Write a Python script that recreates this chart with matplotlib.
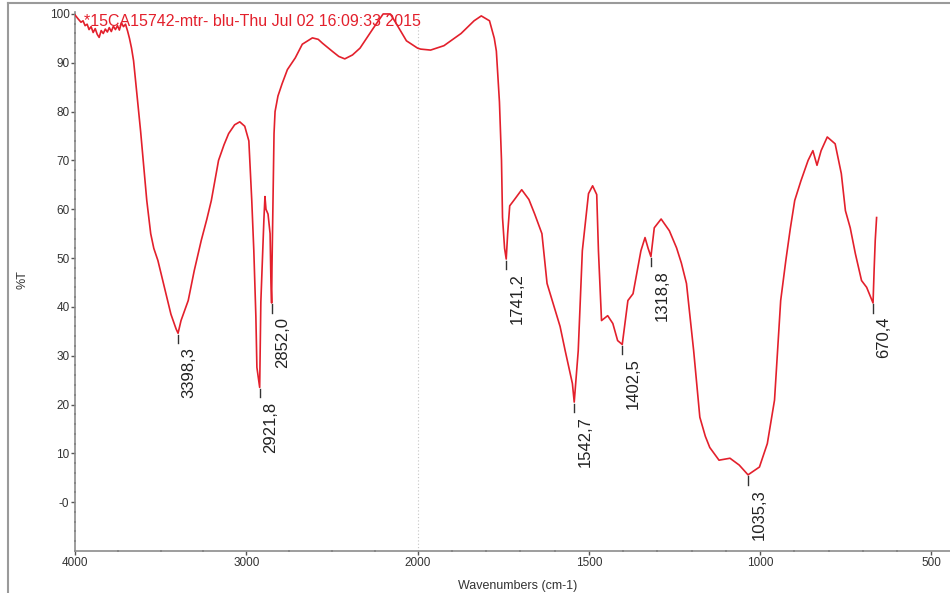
import numpy as np
import matplotlib
matplotlib.use("Agg")
import matplotlib.pyplot as plt
from matplotlib.lines import Line2D

plt.rcParams['font.family'] = ['Liberation Sans', 'DejaVu Sans']

# FTIR spectrum, wavenumber (cm-1) vs %T
wavenumber = [4000, 3982, 3965, 3953, 3941, 3929, 3918, 3906, 3894, 3882, 3870, 3859, 3847, 3835,
              3823, 3811, 3800, 3788, 3776, 3764, 3752, 3741, 3729, 3717, 3705, 3693, 3682, 3670,
              3658, 3634, 3617, 3599, 3581, 3558, 3540, 3516, 3481, 3440, 3410, 3398.3, 3381, 3339,
              3304, 3263, 3230, 3204, 3162, 3130, 3103, 3068, 3038, 3009, 2985, 2974, 2968, 2956,
              2944, 2938, 2926, 2921.8, 2915, 2897, 2891, 2885, 2873, 2861, 2856, 2852.0, 2850, 2844,
              2838, 2832, 2815, 2791, 2760, 2714, 2673, 2614, 2580, 2555, 2496, 2460, 2425, 2380,
              2336, 2260, 2201, 2159, 2124, 2065, 2000,
              1991, 1962, 1923, 1873, 1835, 1814, 1790, 1776, 1770, 1761, 1755, 1752, 1746, 1741.2,
              1737, 1731, 1717, 1696, 1675, 1658, 1637, 1622, 1607, 1584, 1569, 1548, 1542.7, 1531,
              1519, 1501, 1489, 1477, 1472, 1463, 1445, 1430, 1416, 1402.5, 1386, 1371, 1348, 1336,
              1327, 1318.8, 1309, 1289, 1265, 1244, 1230, 1215, 1194, 1176, 1160, 1147, 1120, 1088,
              1061, 1035.3, 1002, 979, 958, 940, 925, 912, 899, 881, 860, 846, 834, 822, 804, 781,
              763, 751, 737, 722, 704, 689, 670.4, 667, 664, 660]
transmittance = [99.8, 99.0, 98.3, 98.6, 97.6, 97.9, 96.8, 97.4, 96.2, 97.0, 95.8, 95.2, 96.6, 96.0,
                 96.9, 96.3, 97.2, 96.4, 97.5, 96.8, 97.6, 96.7, 98.2, 97.4, 97.9, 96.5, 95.0, 93.0,
                 90.4, 82.0, 76.0, 69.0, 61.8, 55.0, 52.0, 49.5, 44.4, 38.5, 35.5, 34.6, 37.2, 41.3,
                 47.4, 53.6, 58.0, 61.8, 70.0, 73.2, 75.5, 77.3, 77.9, 77.0, 74.0, 66.0, 61.8, 51.5,
                 38.0, 27.6, 24.5, 23.5, 41.0, 58.0, 62.6, 60.0, 59.0, 55.0, 45.0, 40.8, 48.0, 62.0,
                 75.5, 80.0, 83.2, 85.7, 88.6, 91.0, 93.8, 95.1, 94.8, 94.0, 92.3, 91.3, 90.8, 91.6,
                 93.0, 97.0, 100.0, 100.0, 98.0, 94.5, 93.0,
                 92.8, 92.6, 93.5, 96.0, 98.6, 99.6, 98.6, 95.0, 92.4, 82.0, 70.0, 58.3, 52.0, 49.8,
                 55.0, 60.7, 62.0, 64.0, 62.0, 59.0, 55.0, 44.8, 41.3, 36.0, 31.0, 24.3, 20.5, 31.0,
                 51.5, 63.2, 64.8, 63.0, 51.5, 37.2, 38.2, 36.6, 33.1, 32.3, 41.3, 42.7, 51.5, 54.2,
                 52.0, 50.3, 56.2, 58.0, 55.6, 52.1, 49.0, 44.8, 31.0, 17.4, 13.5, 11.2, 8.6, 9.0,
                 7.6, 5.6, 7.2, 12.0, 20.9, 41.3, 49.5, 56.0, 61.8, 65.8, 70.0, 72.0, 69.0, 72.0,
                 74.8, 73.4, 67.3, 59.7, 56.2, 50.9, 45.4, 44.0, 40.8, 48.0, 53.6, 58.3]

# labelled band minima
peaks = [3398.3, 2921.8, 2852.0, 1741.2, 1542.7, 1402.5, 1318.8, 1035.3, 670.4]
peak_labels = ["3398,3", "2921,8", "2852,0", "1741,2", "1542,7", "1402,5", "1318,8", "1035,3", "670,4"]

x_major = [4000, 3000, 2000, 1500, 1000, 500]
x_minor = [3750, 3500, 3250, 2750, 2500, 2250, 1900, 1800, 1700, 1600, 1400, 1300, 1200, 1100,
           900, 800, 700, 600]
y_major = [0, 10, 20, 30, 40, 50, 60, 70, 80, 90, 100]
y_labels = ["-0", "10", "20", "30", "40", "50", "60", "70", "80", "90", "100"]

title_text = "*15CA15742-mtr- blu-Thu Jul 02 16:09:33 2015"

wn = np.array(wavenumber)
tr = np.array(transmittance)


# axis is compressed 2x above 2000 cm-1
def fwd(x):
    x = np.asarray(x, dtype=float)
    return np.where(x > 2000, 2000 + (x - 2000) / 2.0, x)


def inv(u):
    u = np.asarray(u, dtype=float)
    return np.where(u > 2000, 2000 + (u - 2000) * 2.0, u)


fig = plt.figure(figsize=(9.5, 5.93), dpi=100)
ax = fig.add_axes([75 / 950, 1 - 551 / 593, 1 - 75 / 950 + 0.01, (551 - 12) / 593])
ax.set_xscale('function', functions=(fwd, inv))
ax.set_xlim(4000, 418)
ax.set_ylim(-10, 100.4)

gray = '#8c8c8c'
ax.axvline(2000, color='#c4c4c4', lw=0.8, ls=(0, (1, 2)), zorder=1)

ax.plot(wn, tr, color='#e3202c', lw=1.2, zorder=3)

# peak markers and labels
for p, lab in zip(peaks, peak_labels):
    t = np.interp(p, wn[::-1], tr[::-1])
    ax.plot([p, p], [t - 0.3, t - 2.0], color='#333333', lw=1.0, zorder=4)
    ax.annotate(lab, xy=(p, t - 2.0), xytext=(2.5, -3), textcoords='offset points',
                rotation=90, ha='left', va='top', fontsize=12, color='#222222')

ax.text(85 / 950 - 75 / 950, 0.997, title_text, transform=ax.transAxes,
        ha='left', va='top', fontsize=11.5, color='#e3202c', zorder=5)

ax.set_xticks(x_major)
ax.set_xticklabels([str(v) for v in x_major])
ax.set_xticks(x_minor, minor=True)
ax.set_yticks(y_major)
ax.set_yticklabels(y_labels)
ax.set_yticks(np.arange(-8, 101, 2), minor=True)

ax.tick_params(axis='both', which='major', direction='out', length=3, width=1,
               color='#555555', labelsize=8.5, labelcolor='#333333', pad=1)
ax.tick_params(axis='both', which='minor', direction='inout', length=2, width=1.2,
               color='#555555')

for side in ['top', 'right']:
    ax.spines[side].set_visible(False)
for side in ['left', 'bottom']:
    ax.spines[side].set_color(gray)
    ax.spines[side].set_linewidth(1.2)

ax.set_xlabel("Wavenumbers (cm-1)", fontsize=9, color='#333333', labelpad=8)
fig.text(22 / 950, 1 - 280 / 593, "%T", rotation=90, ha='center', va='center',
         fontsize=9, color='#333333')

# outer frame
fig.add_artist(Line2D([8 / 950, 8 / 950], [0, 1 - 3 / 593], color='#9a9a9a', lw=1.5))
fig.add_artist(Line2D([8 / 950, 1], [1 - 3 / 593, 1 - 3 / 593], color='#9a9a9a', lw=1.5))

fig.savefig("out.png", dpi=100)
